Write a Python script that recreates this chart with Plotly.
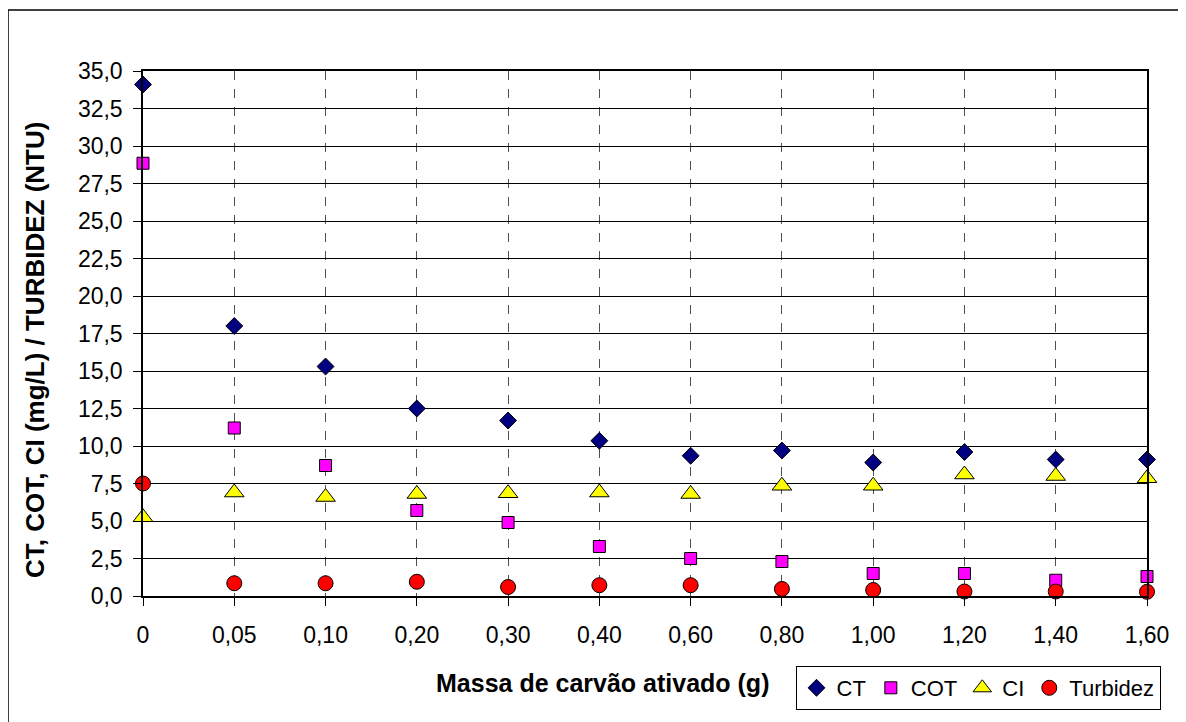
import plotly.graph_objects as go

categories = ["0", "0,05", "0,10", "0,20", "0,30", "0,40", "0,60", "0,80", "1,00", "1,20", "1,40", "1,60"]
ct = [34.1, 18.0, 15.3, 12.5, 11.7, 10.35, 9.35, 9.7, 8.9, 9.6, 9.1, 9.1]
cot = [28.85, 11.2, 8.7, 5.7, 4.9, 3.3, 2.5, 2.3, 1.5, 1.5, 1.05, 1.3]
ci = [5.25, 6.9, 6.6, 6.8, 6.85, 6.9, 6.8, 7.35, 7.35, 8.1, 8.0, 7.85]
turbidez = [7.5, 0.85, 0.85, 0.95, 0.6, 0.72, 0.72, 0.47, 0.4, 0.3, 0.3, 0.28]
y_ticks = [i * 2.5 for i in range(15)]

# page body has an 8px margin; work in page pixel coordinates
OFF = 8
W, H = 1186 - OFF, 722 - OFF
PL, PR, PT, PB = 143, 1147, 71, 596  # plot area in page pixels
L, T = PL - OFF, PT - OFF
R, B = W - (PR - OFF), H - (PB - OFF)
pw, ph = PR - PL, PB - PT

def px(x):
    return (x - PL) / pw

def py(y):
    return (PB - y) / ph

xi = list(range(len(categories)))
FONT = "Liberation Sans, Arial, sans-serif"

series = [
    ("CT", ct, "diamond", "#000080", 13),
    ("COT", cot, "square", "#FF00FF", 12),
    ("CI", ci, "triangle-up", "#FFFF00", 17),
    ("Turbidez", turbidez, "circle", "#FF0000", 15),
]

fig = go.Figure()
for name, vals, sym, col, size in series:
    fig.add_trace(go.Scatter(
        x=xi, y=vals, mode="markers", name=name, cliponaxis=False,
        marker=dict(symbol=sym, color=col, size=size, line=dict(color="black", width=1)),
    ))

fig.update_layout(
    width=W, height=H,
    margin=dict(l=L, r=R, t=T, b=B, pad=0),
    paper_bgcolor="white", plot_bgcolor="white",
    separators=",.",
    font=dict(family=FONT, size=22, color="black"),
    showlegend=True,
    legend=dict(
        orientation="h", x=px(978), y=py(666), xanchor="center", yanchor="top",
        bordercolor="black", borderwidth=1, bgcolor="white",
        font=dict(family=FONT, size=22, color="black"),
        itemsizing="trace", tracegroupgap=0,
    ),
)

fig.update_xaxes(
    range=[0, len(categories) - 1],
    tickmode="array", tickvals=xi, ticktext=categories,
    showgrid=True, gridcolor="#505050", gridwidth=1, griddash="dash",
    showline=True, linecolor="black", linewidth=1.5, mirror=True,
    ticks="outside", ticklen=8, tickcolor="black",
    ticklabelstandoff=10,
    zeroline=False,
    tickfont=dict(family=FONT, size=23, color="black"),
)
fig.update_yaxes(
    range=[0, 35],
    tickmode="array", tickvals=y_ticks, tickformat=".1f",
    showgrid=True, gridcolor="black", gridwidth=1,
    showline=True, linecolor="black", linewidth=1.5, mirror=True,
    ticks="outside", ticklen=8, tickcolor="black",
    ticklabelstandoff=6,
    zeroline=False,
    tickfont=dict(family=FONT, size=23, color="black"),
)

fig.add_annotation(
    text="<b>Massa de carvão ativado (g)</b>", xref="paper", yref="paper",
    x=px(602), y=py(683), xanchor="center", yanchor="middle", showarrow=False,
    font=dict(family=FONT, size=25, color="black"),
)
fig.add_annotation(
    text="<b>CT, COT, CI (mg/L) / TURBIDEZ (NTU)</b>", xref="paper", yref="paper",
    x=px(35), y=py(350), xanchor="center", yanchor="middle", showarrow=False,
    textangle=-90,
    font=dict(family=FONT, size=26, color="black"),
)

# outer chart border (left and top visible)
fig.add_shape(type="line", xref="paper", yref="paper", x0=px(8), x1=px(8), y0=py(10), y1=py(730),
              line=dict(color="black", width=1.5))
fig.add_shape(type="line", xref="paper", yref="paper", x0=px(8), x1=px(1195), y0=py(10), y1=py(10),
              line=dict(color="black", width=1.5))

fig.write_html("out.html")
